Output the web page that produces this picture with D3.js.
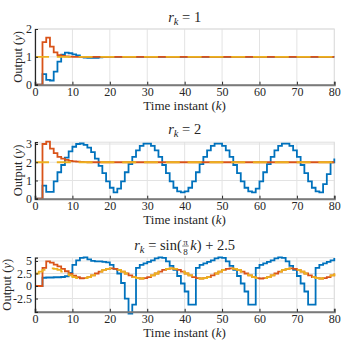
<!DOCTYPE html>
<html>
<head>
<meta charset="utf-8">
<script src="https://cdn.jsdelivr.net/npm/d3@7"></script>
<style>
  html, body { margin: 0; padding: 0; background: #fff; }
  text { font-family: "Liberation Serif", "DejaVu Serif", serif; fill: #262626; white-space: pre; }
</style>
</head>
<body>
<svg id="chart" width="341" height="341"></svg>
<script>
// time instants
var K = d3.range(0, 81);
var xTicks = [0, 10, 20, 30, 40, 50, 60, 70, 80];

// r_k = 1
var ref1 = Array(81).fill(1);
var blue1 = [0, 0, 0.38, 0.17, 0.15, 0.47, 0.83, 1.08, 1.15, 1.13, 1.09, 1.05, 0.99, 0.97, 0.96, 0.96, 0.96, 0.98, 0.99]
  .concat(Array(62).fill(1));
var orange1 = [0, 0, 1.53, 1.69, 1.37, 1.16, 1.06, 1.03, 1.02, 1.01]
  .concat(Array(71).fill(1));

// r_k = 2
var ref2 = Array(81).fill(2);
var blue2 = [0, 0, 0.72, 0.37, 0.37, 0.95, 1.45, 1.85, 2.25, 2.6, 2.85, 3.0, 3.03, 2.95, 2.8, 2.55, 2.2, 1.8, 1.4, 0.95, 0.6,
  0.35, 0.55, 0.95, 1.45, 1.9, 2.3, 2.65, 2.9, 3.02, 3.02, 2.9, 2.65, 2.3, 1.85, 1.4, 0.95, 0.6, 0.4,
  0.35, 0.4, 0.6, 0.95, 1.45, 1.9, 2.3, 2.65, 2.9, 3.02, 3.02, 2.9, 2.65, 2.3, 1.85, 1.4, 0.95, 0.6, 0.4,
  0.35, 0.55, 0.95, 1.45, 1.9, 2.3, 2.65, 2.9, 3.02, 3.02, 2.9, 2.65, 2.3, 1.85, 1.4, 0.95, 0.6, 0.4,
  0.35, 0.8, 1.35, 2.0, 2.2];
var orange2 = [0, 0, 3.0, 3.13, 2.75, 2.5, 2.3, 2.2, 2.13, 2.08, 2.05, 2.03, 2.02, 2.01]
  .concat(Array(67).fill(2));

// r_k = sin(pi/8 k) + 2.5
var ref3 = [2.5, 2.88, 3.21, 3.42, 3.5, 3.42, 3.21, 2.88, 2.5, 2.12, 1.79, 1.58, 1.5, 1.58, 1.79, 2.12,
  2.5, 2.88, 3.21, 3.42, 3.5, 3.42, 3.21, 2.88, 2.5, 2.12, 1.79, 1.58, 1.5, 1.58, 1.79, 2.12,
  2.5, 2.88, 3.21, 3.42, 3.5, 3.42, 3.21, 2.88, 2.5, 2.12, 1.79, 1.58, 1.5, 1.58, 1.79, 2.12,
  2.5, 2.88, 3.21, 3.42, 3.5, 3.42, 3.21, 2.88, 2.5, 2.12, 1.79, 1.58, 1.5, 1.58, 1.79, 2.12,
  2.5, 2.88, 3.21, 3.42, 3.5, 3.42, 3.21, 2.88, 2.5, 2.12, 1.79, 1.58, 1.5, 1.58, 1.79, 2.12,
  2.5];
var blue3 = [0, 0, 1.65, 1.7, 1.7, 1.75, 1.75, 1.8, 1.95, 2.6, 4.2, 5.1, 5.6, 5.7, 5.3, 5.0, 4.9, 4.9, 4.8, 4.7,
  4.2, 3.4, 2.5, 0.6, -2.5, -5.5, -3.7,
  3.6, 4.2, 4.5, 4.8, 5.1, 5.5, 5.7, 5.6, 4.9, 4.0, 3.2, 2.0, 0.5, -1.1, -3.7, -3.7,
  3.6, 4.2, 4.5, 4.8, 5.1, 5.5, 5.7, 5.6, 4.9, 4.0, 3.2, 2.0, 0.5, -1.1, -3.7, -3.7,
  3.6, 4.2, 4.5, 4.8, 5.1, 5.5, 5.7, 5.6, 4.9, 4.0, 3.2, 2.0, 0.5, -1.1, -3.7, -3.7,
  3.6, 4.2, 4.5, 4.8, 5.1, 5.6];
var orange3 = [0, 0, 3.6, 4.9, 4.65, 4.25, 3.9, 3.4, 2.95, 2.45, 2.05, 1.75, 1.55]
  .concat(ref3.slice(13));

var panels = [
  { top: 29, bottom: 84.7, domain: [0, 2], ticks: [0, 1, 2], labels: ["0", "1", "2"], ylabX: 18,
    titleY: 21.5, title: [{ t: "r", it: 1 }, { t: "k", it: 1, sub: 1 }, { t: " = 1" }],
    blue: blue1, orange: orange1, ref: ref1 },
  { top: 142.2, bottom: 198.7, domain: [0, 3.1], ticks: [0, 1, 2, 3], labels: ["0", "1", "2", "3"], ylabX: 18,
    titleY: 134, title: [{ t: "r", it: 1 }, { t: "k", it: 1, sub: 1 }, { t: " = 2" }],
    blue: blue2, orange: orange2, ref: ref2 },
  { top: 257.7, bottom: 311.8, domain: [-5.15, 5.65], ticks: [-2.5, 0, 2.5, 5], labels: ["-2.5", "0", "2.5", "5"], ylabX: 7,
    titleY: 249.5, title: [{ t: "r", it: 1 }, { t: "k", it: 1, sub: 1 }, { t: " = sin(" }, { frac: ["\u03c0", "8"] },
      { t: "k", it: 1 }, { t: ") + 2.5" }],
    blue: blue3, orange: orange3, ref: ref3 }
];

var svg = d3.select("#chart");
var x = d3.scaleLinear().domain([0, 80]).range([35, 334.3]);

function mathTitle(cx, base, parts) {
  var g = svg.append("g");
  var cur = 0;
  parts.forEach(function(p) {
    if (p.frac) {
      var num = g.append("text").attr("font-size", 9).attr("y", base - 5).attr("text-anchor", "middle").text(p.frac[0]);
      var den = g.append("text").attr("font-size", 9).attr("y", base + 5).attr("text-anchor", "middle").text(p.frac[1]);
      var w = Math.max(num.node().getComputedTextLength(), den.node().getComputedTextLength()) + 3;
      num.attr("x", cur + w / 2);
      den.attr("x", cur + w / 2);
      g.append("line").attr("x1", cur + 0.5).attr("x2", cur + w - 0.5)
        .attr("y1", base - 3.5).attr("y2", base - 3.5).attr("stroke", "#262626").attr("stroke-width", 0.6);
      cur += w + 1;
    } else {
      var t = g.append("text")
        .attr("x", cur)
        .attr("y", p.sub ? base + 3 : base)
        .attr("font-size", p.sub ? 10.5 : 14.5)
        .attr("font-style", p.it ? "italic" : "normal")
        .text(p.t);
      cur += t.node().getComputedTextLength();
    }
  });
  g.attr("transform", "translate(" + (cx - cur / 2) + ",0)");
}

panels.forEach(function(p) {
  var y = d3.scaleLinear().domain(p.domain).range([p.bottom, p.top]);
  var g = svg.append("g");

  // grid
  g.selectAll(".gx").data(xTicks).enter().append("line")
    .attr("x1", function(d) { return x(d); }).attr("x2", function(d) { return x(d); })
    .attr("y1", p.top).attr("y2", p.bottom)
    .attr("stroke", "#e3e3e3").attr("stroke-width", 1);
  g.selectAll(".gy").data(p.ticks).enter().append("line")
    .attr("x1", x(0)).attr("x2", x(80))
    .attr("y1", function(d) { return y(d); }).attr("y2", function(d) { return y(d); })
    .attr("stroke", "#e3e3e3").attr("stroke-width", 1);
  // light box
  g.append("rect").attr("x", x(0)).attr("y", p.top)
    .attr("width", x(80) - x(0)).attr("height", p.bottom - p.top)
    .attr("fill", "none").attr("stroke", "#dedede").attr("stroke-width", 1);

  // stair lines
  var line = d3.line()
    .x(function(d, i) { return x(K[i]); })
    .y(function(d) { return y(d); })
    .curve(d3.curveStepAfter);

  g.append("path").datum(p.blue).attr("d", line)
    .attr("fill", "none").attr("stroke", "#0072BD").attr("stroke-width", 1.8);
  g.append("path").datum(p.orange).attr("d", line)
    .attr("fill", "none").attr("stroke", "#D95319").attr("stroke-width", 1.8);
  g.append("path").datum(p.ref).attr("d", line)
    .attr("fill", "none").attr("stroke", "#EDB120").attr("stroke-width", 1.8)
    .attr("stroke-dasharray", "14,7.8");

  // axes (MATLAB style, ticks inward)
  var xAxis = d3.axisBottom(x).tickValues(xTicks).tickSize(-3).tickPadding(2.4).tickFormat(d3.format("d"));
  var ax = g.append("g").attr("transform", "translate(0," + p.bottom + ")").call(xAxis);
  ax.select(".domain").attr("stroke", "#7a7a7a").attr("stroke-width", 2);
  ax.selectAll(".tick line").attr("stroke", "#262626");
  ax.selectAll(".tick text").attr("font-size", 12).attr("font-family", "Liberation Serif").attr("fill", "#262626");

  var yAxis = d3.axisLeft(y).tickValues(p.ticks).tickSize(-3).tickPadding(3)
    .tickFormat(function(d, i) { return p.labels[i]; });
  var ay = g.append("g").attr("transform", "translate(" + x(0) + ",0)").call(yAxis);
  ay.select(".domain").attr("stroke", "#262626").attr("stroke-width", 1.2);
  ay.selectAll(".tick line").attr("stroke", "#262626");
  ay.selectAll(".tick text").attr("font-size", 12).attr("font-family", "Liberation Serif").attr("fill", "#262626");

  // x label
  var xl = svg.append("text").attr("x", (x(0) + x(80)) / 2).attr("y", p.bottom + 25.6)
    .attr("text-anchor", "middle").attr("font-size", 13);
  xl.append("tspan").text("Time instant (");
  xl.append("tspan").attr("font-style", "italic").text("k");
  xl.append("tspan").text(")");

  // y label
  var cy = (p.top + p.bottom) / 2;
  var yl = svg.append("text")
    .attr("transform", "translate(" + (p.ylabX + 4) + "," + cy + ") rotate(-90)")
    .attr("text-anchor", "middle").attr("font-size", 12.5);
  yl.append("tspan").text("Output (");
  yl.append("tspan").attr("font-style", "italic").text("y");
  yl.append("tspan").text(")");

  mathTitle((x(0) + x(80)) / 2, p.titleY, p.title);
});
</script>
</body>
</html>
